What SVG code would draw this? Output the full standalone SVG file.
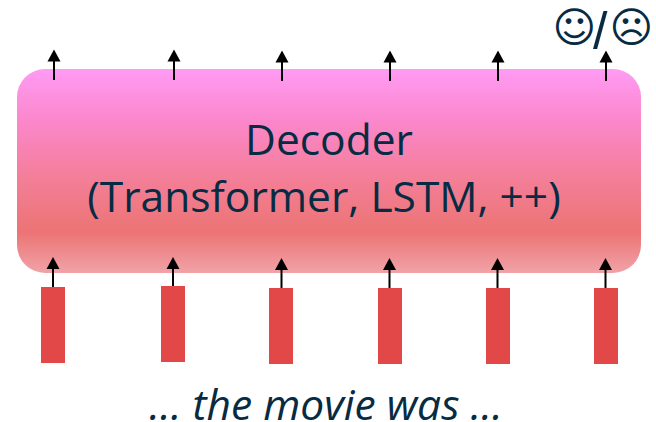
<svg xmlns="http://www.w3.org/2000/svg" width="656" height="422" viewBox="0 0 656 422">
<style>
text{font-family:"Open Sans","Noto Sans","DejaVu Sans",sans-serif;fill:#072b42}
.t{font-size:42.500px;text-anchor:middle}
.bar{fill:#e24848}
.e{font-size:42px;font-family:"DejaVu Sans",sans-serif}
</style>
<defs>
<linearGradient id="g" x1="0" y1="0" x2="0" y2="1">
<stop offset="0" stop-color="#ff9bf4"/>
<stop offset="0.25" stop-color="#fb87cc"/>
<stop offset="0.55" stop-color="#f37e96"/>
<stop offset="0.8" stop-color="#ec7474"/>
<stop offset="1" stop-color="#f0a3a8"/>
</linearGradient>
</defs>
<g id="decoder">
<rect x="17" y="69" width="624" height="204" rx="28" fill="url(#g)"/>
<text class="t" x="329" y="155">Decoder</text>
<text class="t" x="324" y="212">(Transformer, LSTM, ++)</text>
</g>
<g id="input1"><rect class="bar" x="41" y="287" width="24" height="76"/></g>
<g id="input2"><rect class="bar" x="161" y="286" width="24" height="76"/></g>
<g id="input3"><rect class="bar" x="269" y="288" width="24" height="76"/></g>
<g id="input4"><rect class="bar" x="378" y="288" width="24" height="76"/></g>
<g id="input5"><rect class="bar" x="486" y="288" width="24" height="76"/></g>
<g id="input6"><rect class="bar" x="594" y="288" width="24" height="76"/></g>
<g id="connectors" fill="#000" stroke="#000">
<g stroke-width="2">
<path d="M54 80V60M174 80V60M282 81V61M390 81V61M498 81V61M606 81V61"/>
<path d="M53 287V267M173 286V267M281.500 288V268M389.500 288V268M497.500 288V268M605.500 288V268"/>
</g>
<g stroke="none">
<path d="M54 49.500L60.500 61.500H47.500Z"/><path d="M174 49.500L180.500 61.500H167.500Z"/><path d="M282 50.500L288.500 62.500H275.500Z"/><path d="M390 50.500L396.500 62.500H383.500Z"/><path d="M498 50.500L504.500 62.500H491.500Z"/><path d="M606 50.500L612.500 62.500H599.500Z"/>
<path d="M53 257L59.500 269H46.500Z"/><path d="M173 257L179.500 269H166.500Z"/><path d="M281.500 258L288 270H275Z"/><path d="M389.500 258L396 270H383Z"/><path d="M497.500 258L504 270H491Z"/><path d="M605.500 258L612 270H599Z"/>
</g>
</g>
<g id="sentiment">
<text class="e" x="552.500" y="42">☺<tspan x="593" y="49" font-size="52" style="font-family:'Liberation Sans',sans-serif">/</tspan><tspan x="609.500" y="42">☹</tspan></text>
</g>
<g id="caption">
<text x="326" y="420" text-anchor="middle" font-size="42.500" font-style="italic">… the movie was …</text>
</g>
</svg>
